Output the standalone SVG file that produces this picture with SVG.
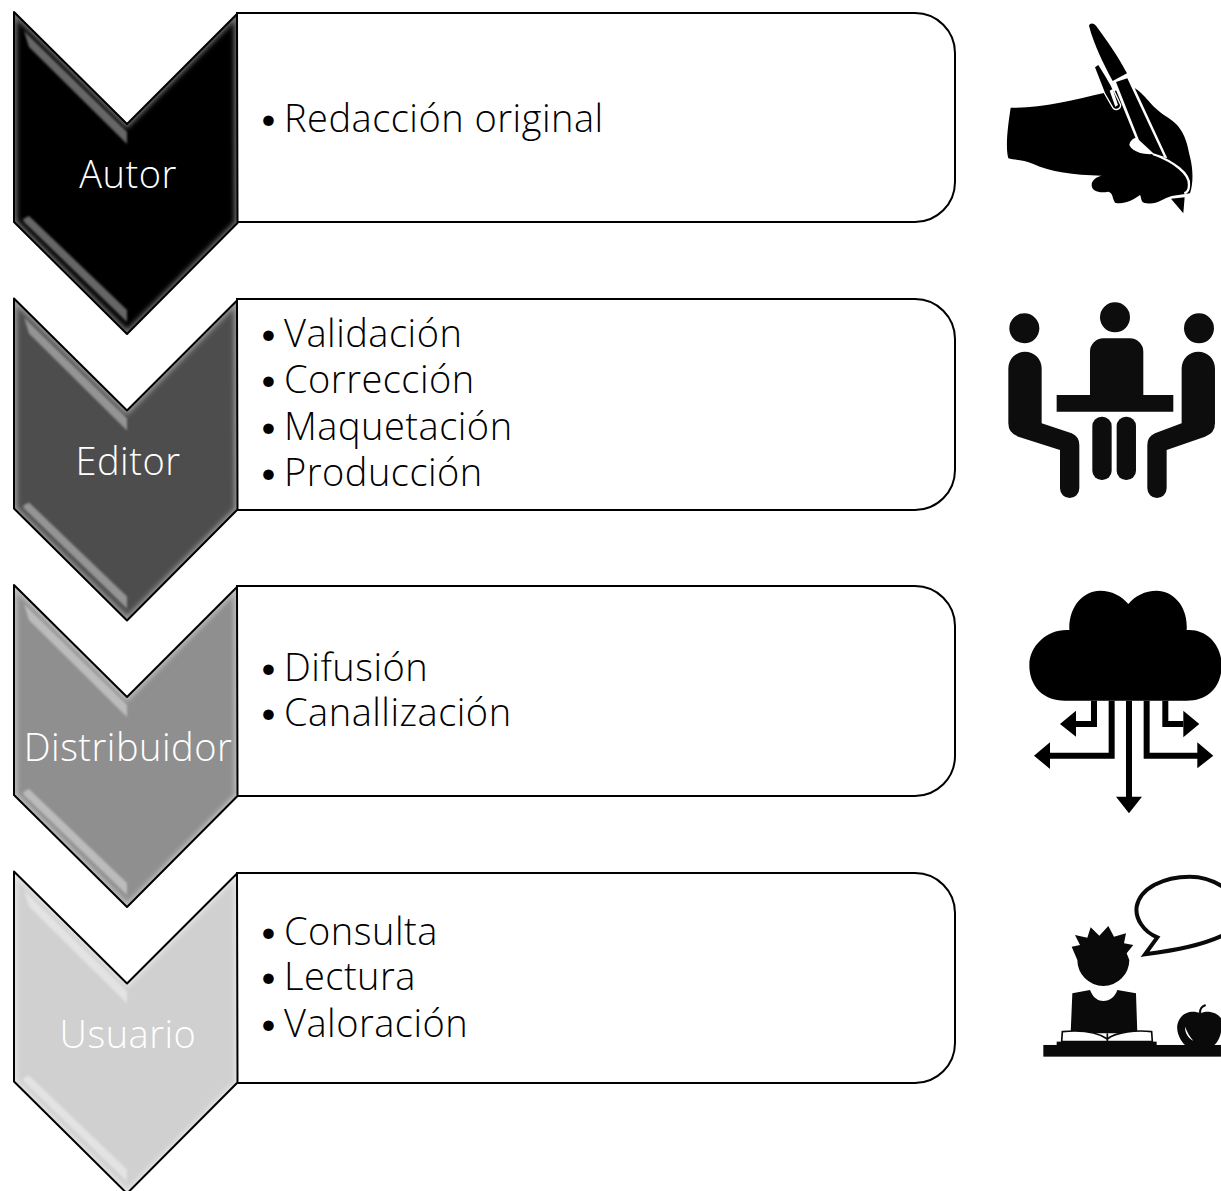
<svg xmlns="http://www.w3.org/2000/svg" width="1221" height="1191" viewBox="0 0 1221 1191">
<style>
text{font-family:"Open Sans","Lato","Liberation Sans",sans-serif;font-weight:300;font-size:38px;letter-spacing:0.5px}
.d{font-family:"Lato","Open Sans",sans-serif;font-size:36px;letter-spacing:0}
.l{text-anchor:middle}
.box{fill:#fff;stroke:#000;stroke-width:2}
.o{fill:none;stroke:#000;stroke-width:2;stroke-linejoin:round}
</style>
<defs>
<path id="chev" d="M14,12 L127,124 L237,14 L237.500,223 L127,334 L14,222Z"/>
<clipPath id="cc"><use href="#chev"/></clipPath>
<filter id="b2" x="-20%" y="-20%" width="140%" height="140%"><feGaussianBlur stdDeviation="2.500"/></filter>
<filter id="b1" x="-20%" y="-20%" width="140%" height="140%"><feGaussianBlur stdDeviation="0.900"/></filter>
<g id="bevel">
<g clip-path="url(#cc)"><use href="#chev" fill="none" stroke="#fff" stroke-opacity="0.45" stroke-width="6" filter="url(#b2)"/></g>
<path d="M24,31 L127,132 V144 L29,47Z" fill="#fff" fill-opacity="0.4" filter="url(#b1)"/>
<path d="M23,219 L29,216 L127,310 V322 L24,222Z" fill="#fff" fill-opacity="0.4" filter="url(#b1)"/>
</g>
</defs>
<g id="box-1"><path class="box" d="M237,13 H915 a40,40 0 0 1 40,40 V182 a40,40 0 0 1 -40,40 H237Z"/><text class="d" x="258" y="131">•</text><text x="284" y="132">Redacción original</text></g>
<g id="box-2"><path class="box" d="M237,299 H915 a40,40 0 0 1 40,40 V470 a40,40 0 0 1 -40,40 H237Z"/><text class="d" x="258" y="346">•</text><text x="284" y="347">Validación</text><text class="d" x="258" y="392">•</text><text x="284" y="393">Corrección</text><text class="d" x="258" y="439">•</text><text x="284" y="440">Maquetación</text><text class="d" x="258" y="485">•</text><text x="284" y="486">Producción</text></g>
<g id="box-3"><path class="box" d="M237,586 H915 a40,40 0 0 1 40,40 V756 a40,40 0 0 1 -40,40 H237Z"/><text class="d" x="258" y="680">•</text><text x="284" y="681">Difusión</text><text class="d" x="258" y="725">•</text><text x="284" y="726">Canallización</text></g>
<g id="box-4"><path class="box" d="M237,873 H915 a40,40 0 0 1 40,40 V1043 a40,40 0 0 1 -40,40 H237Z"/><text class="d" x="258" y="944">•</text><text x="284" y="945">Consulta</text><text class="d" x="258" y="989">•</text><text x="284" y="990">Lectura</text><text class="d" x="258" y="1036">•</text><text x="284" y="1037">Valoración</text></g>
<g id="chevron-autor"><use href="#chev" fill="#000"/><use href="#bevel"/><use href="#chev" class="o"/><text class="l" x="128" y="188" fill="#fff">Autor</text></g>
<g id="chevron-editor" transform="translate(0,286.500)"><use href="#chev" fill="#4d4d4d"/><use href="#bevel"/><use href="#chev" class="o"/><text class="l" x="128" y="188" fill="#fff">Editor</text></g>
<g id="chevron-distribuidor" transform="translate(0,573)"><use href="#chev" fill="#8f8f8f"/><use href="#bevel"/><use href="#chev" class="o"/><text class="l" x="128" y="188" fill="#fff">Distribuidor</text></g>
<g id="chevron-usuario" transform="translate(0,859.500)"><use href="#chev" fill="#d0d0d0"/><use href="#bevel"/><use href="#chev" class="o"/><text class="l" x="128" y="188" fill="#fff">Usuario</text></g>
<g id="icon-hand" transform="translate(990,10) scale(0.3333)">
<path d="M62,293 C150,295 250,270 345,248 L430,232 C470,255 480,290 530,320 C580,350 590,390 600,440 C610,480 610,520 600,550 L545,558 C520,565 500,585 470,580 C450,580 455,560 450,555 C430,570 400,585 375,578 C365,560 370,550 355,545 C330,550 305,545 305,525 C305,510 320,500 335,497 C250,495 180,485 130,462 C100,448 70,450 55,445 C45,410 55,340 62,293Z"/>
<path d="M368,215 L430,225 L532,445 L490,436 L440,392Z" fill="#fff"/>
<path d="M418,405 C420,390 435,378 450,385 L490,432 C470,434 430,430 418,405Z" fill="#fff"/>
<path d="M490,432 C550,455 600,490 597,525 C597,540 590,548 583,550" fill="none" stroke="#fff" stroke-width="7"/>
<path d="M297,47 C300,38 310,38 318,47 C350,90 385,140 411,190 L368,213 C340,160 312,105 297,47Z"/>
<path d="M378,216 L412,205 L522,440 L490,430 L447,390Z"/>
<path d="M315,172 L325,165 L345,197 L361,225 L390,285 C390,297 375,300 370,292 L345,248Z" stroke="#fff" stroke-width="8" paint-order="stroke"/>
<path d="M359,242 L368,237 L384,285 L376,290Z" fill="#fff"/>
<path d="M543,566 L584,562 L580,610Z"/>
</g>
<g id="icon-meeting" transform="translate(990,295) scale(0.3333)" fill="#0d0d0d">
<circle cx="103" cy="100" r="45"/><circle cx="375" cy="67" r="45"/><circle cx="627" cy="100" r="45"/>
<path d="M300,300 V170 a40,40 0 0 1 40,-40 H420 a40,40 0 0 1 40,40 V300 H550 V350 H200 V300Z"/>
<rect x="307" y="365" width="58" height="190" rx="28"/><rect x="380" y="365" width="58" height="190" rx="28"/>
<path d="M55,220 a50,50 0 0 1 100,0 V385 L245,415 Q268,425 268,450 V580 a29,29 0 0 1 -58,0 V465 L85,425 Q55,415 55,385Z"/>
<path d="M675,220 a50,50 0 0 0 -100,0 V385 L495,415 Q472,425 472,450 V580 a29,29 0 0 0 58,0 V465 L645,425 Q675,415 675,385Z"/>
</g>
<g id="icon-cloud" transform="translate(1020,580) scale(0.3333)">
<path d="M135,362 C70,362 28,320 28,255 C28,195 85,145 148,150 C145,80 190,32 240,32 C275,32 305,48 325,72 C345,48 375,32 410,32 C460,32 505,80 500,150 C560,145 605,195 605,255 C605,320 565,362 500,362Z"/>
<path d="M327,362 V655 M275,362 V527 H85 M380,362 V527 H535 M222,362 V432 H165 M436,362 V432 H490" fill="none" stroke="#000" stroke-width="18"/>
<path d="M288,650 H366 L327,700Z M90,487 V567 L42,527Z M532,487 V565 L580,527Z M168,392 V470 L120,432Z M490,392 V472 L538,432Z"/>
</g>
<g id="icon-reader" transform="translate(1030,865) scale(0.3333)" fill="#0a0a0a">
<path d="M585,70 C550,45 520,35 480,35 C400,35 330,70 320,125 C315,160 340,200 382,217 L345,268 C440,255 520,240 585,208" fill="#fff" stroke="#0a0a0a" stroke-width="12"/>
<path d="M142,285 L125,245 L150,240 L135,210 L172,218 L182,187 L208,212 L235,183 L252,215 L288,205 L282,235 L310,240 L290,265 L298,285 A78,78 0 0 1 142,285Z"/>
<path d="M127,385 L180,375 C190,400 205,408 220,408 C240,408 255,395 262,375 L318,385 L322,505 L122,505Z"/>
<path d="M97,500 C150,495 200,500 232,522 C260,500 320,495 365,500 L367,530 H95Z" fill="#fff" stroke="#0a0a0a" stroke-width="5"/>
<path d="M232,505 V530" stroke="#0a0a0a" stroke-width="5"/>
<rect x="80" y="530" width="300" height="15"/><rect x="40" y="540" width="533" height="35"/>
<path d="M510,445 C490,435 450,440 442,480 C438,510 460,540 470,542 H550 C570,530 580,490 573,460 C560,440 530,435 510,445Z"/>
<path d="M510,445 C510,430 515,425 527,420" fill="none" stroke="#0a0a0a" stroke-width="6"/>
<path d="M465,485 C465,505 475,520 490,527 C478,515 472,500 465,485Z" fill="#fff"/>
</g>
</svg>
